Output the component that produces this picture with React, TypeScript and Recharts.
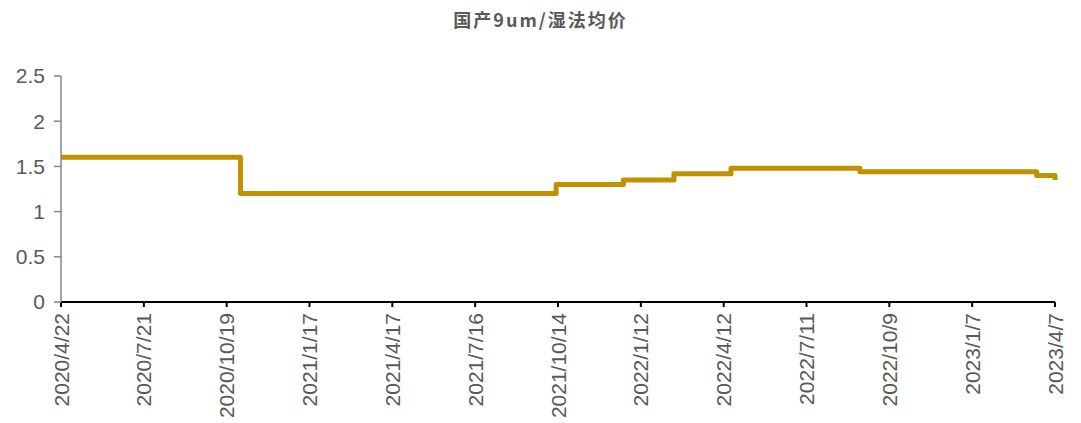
import React from "react";
import { LineChart, Line, XAxis, YAxis } from "recharts";

const title = "国产9um/湿法均价";
const stepDates = ["2020/4/22", "2020/11/3", "2021/10/12", "2021/12/24", "2022/2/17", "2022/4/20", "2022/9/7", "2023/3/18", "2023/4/7"];
const stepValues = [1.6, 1.2, 1.3, 1.35, 1.42, 1.48, 1.44, 1.4, 1.35];
const tickLabels = ["2020/4/22", "2020/7/21", "2020/10/19", "2021/1/17", "2021/4/17", "2021/7/16", "2021/10/14", "2022/1/12", "2022/4/12", "2022/7/11", "2022/10/9", "2023/1/7", "2023/4/7"];
const yTicks = [0, 0.5, 1, 1.5, 2, 2.5];

const toT = (s: string) => {
  const [y, m, d] = s.split("/").map(Number);
  return Date.UTC(y, m - 1, d);
};

const data = stepDates.map((d, i) => ({ t: toT(d), v: stepValues[i] }));
const xTicks = tickLabels.map(toT);
const labelOf: Record<number, string> = {};
tickLabels.forEach((l) => (labelOf[toT(l)] = l));

const FONT = "'Liberation Sans', Arial, sans-serif";

const RotTick = (props: any) => {
  const { x, y, payload } = props;
  return (
    <g transform={`translate(${x},${y})`}>
      <text
        x={0}
        y={0}
        dy="0.36em"
        textAnchor="end"
        transform="rotate(-90)"
        fill="#595959"
        fontSize={21}
        fontFamily={FONT}
      >
        {labelOf[payload.value]}
      </text>
    </g>
  );
};

export default function App() {
  return (
    <div style={{ position: "absolute", left: 0, top: 0, width: 1081, height: 423, background: "#fff" }}>
      <div
        style={{
          position: "absolute",
          left: 0,
          top: 6,
          width: 1081,
          textAlign: "center",
          fontFamily: "'Noto Sans CJK SC', sans-serif",
          fontWeight: 700,
          fontSize: 18,
          letterSpacing: 2,
          color: "#595959",
        }}
      >
        {title}
      </div>
      <LineChart width={1081} height={423} data={data} margin={{ top: 76, right: 26, left: 0, bottom: 0 }}>
        <XAxis
          dataKey="t"
          type="number"
          scale="time"
          domain={[xTicks[0], xTicks[xTicks.length - 1]]}
          ticks={xTicks}
          interval={0}
          height={121}
          axisLine={{ stroke: "#000", strokeWidth: 2 }}
          tickLine={{ stroke: "#000", strokeWidth: 2 }}
          tickSize={5}
          tickMargin={6}
          tick={<RotTick />}
        />
        <YAxis
          domain={[0, 2.5]}
          ticks={yTicks}
          width={61}
          axisLine={{ stroke: "#868686", strokeWidth: 1.5 }}
          tickLine={{ stroke: "#868686", strokeWidth: 1.5 }}
          tickSize={7}
          tickMargin={9}
          tick={{ fill: "#595959", fontSize: 21, fontFamily: FONT }}
        />
        <Line
          dataKey="v"
          type="stepAfter"
          stroke="#C09100"
          strokeWidth={5}
          dot={false}
          isAnimationActive={false}
          strokeLinejoin="round"
        />
      </LineChart>
    </div>
  );
}
